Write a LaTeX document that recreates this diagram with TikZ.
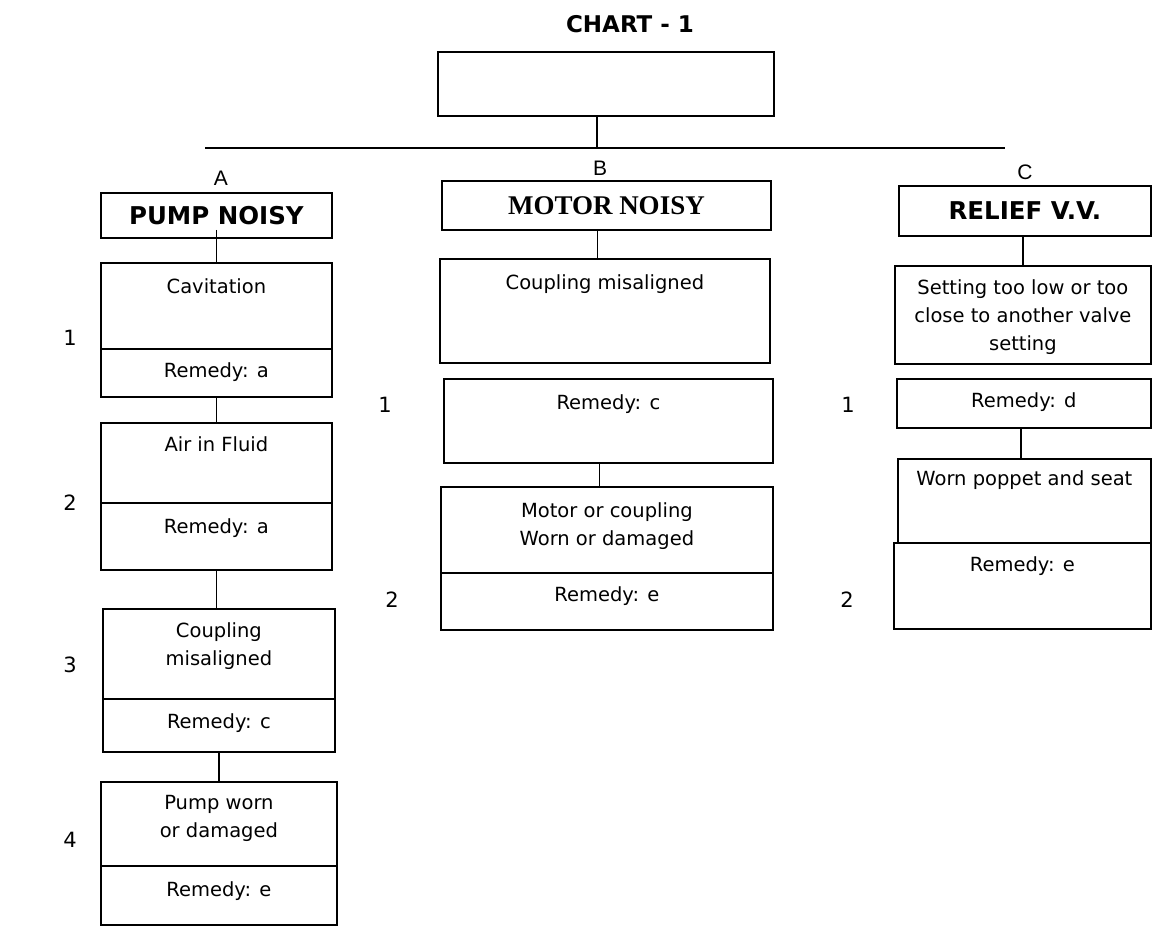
\documentclass[tikz,border=0pt]{standalone}
\usepackage{fontspec}
\setmainfont{DejaVu Sans}
\newfontfamily\timesfont{Liberation Serif}
\newfontfamily\arialfont{Liberation Sans}
\usetikzlibrary{positioning}

\tikzset{
  box/.style={draw, line width=1.8pt, anchor=north west, inner sep=0pt},
  link/.style={line width=1.8pt},
  cause/.style={inner sep=0pt, align=center, font=\fontsize{19.5}{28}\selectfont},
  num/.style={font=\fontsize{21}{24}\selectfont},
  colhead/.style={font=\arialfont\fontsize{21}{24}\selectfont},
  head/.style={font=\bfseries\fontsize{24.5}{28}\selectfont},
}

\begin{document}
\begin{tikzpicture}[x=1pt, y=-1pt]
  \useasboundingbox (0,0) rectangle (1152,926);

  % Title and empty top box
  \node[font=\bfseries\fontsize{23}{26}\selectfont] (title) at (630,24) {CHART - 1};
  \node[box, line width=2.4pt, minimum width=336pt, minimum height=64pt] (top) at (437,51) {};

  % Bus line
  \coordinate (busL) at (205,148);
  \coordinate (busR) at (1005,148);
  \coordinate (busM) at (597,148);
  \draw[link] (busL) -- (busR);
  \draw[link] (busM |- top.south) -- (busM);

  % Column letters
  \node[colhead] (colA) at (221,178) {A};
  \node[colhead] (colB) at (600,168) {B};
  \node[colhead] (colC) at (1025,172) {C};

  % Row numbers
  \foreach \n/\t/\x/\y in {A1/1/70/338, A2/2/70/503, A3/3/70/665, A4/4/70/840,
                           B1/1/385/405, B2/2/392/600, C1/1/848/405, C2/2/847/600} {
    \node[num] (num\n) at (\x,\y) {\t};
  }

  % Column A: pump noisy
  \node[box, head, minimum width=231pt, minimum height=45pt] (pump) at (100,192) {PUMP NOISY};
  \node[box, minimum width=231pt, minimum height=86pt] (a1) at (100,262) {};
  \node[box, minimum width=231pt, minimum height=48pt] (r1) at (100,348) {};
  \node[box, minimum width=231pt, minimum height=80pt] (a2) at (100,422) {};
  \node[box, minimum width=231pt, minimum height=67pt] (r2) at (100,502) {};
  \node[box, minimum width=232pt, minimum height=90pt] (a3) at (102,608) {};
  \node[box, minimum width=232pt, minimum height=53pt] (r3) at (102,698) {};
  \node[box, minimum width=236pt, minimum height=84pt] (a4) at (100,781) {};
  \node[box, minimum width=236pt, minimum height=59pt] (r4) at (100,865) {};

  \node[cause, below=16pt of a1.north] (a1t) {Cavitation};
  \node[cause, below=14pt of r1.north] (r1t) {Remedy: a};
  \node[cause, below=14pt of a2.north] (a2t) {Air in Fluid};
  \node[cause, below=16pt of r2.north] (r2t) {Remedy: a};
  \node[cause, below=14pt of a3.north] (a3t) {Coupling\\misaligned};
  \node[cause, below=15pt of r3.north] (r3t) {Remedy: c};
  \node[cause, below=14pt of a4.north] (a4t) {Pump worn\\or damaged};
  \node[cause, below=16pt of r4.north] (r4t) {Remedy: e};

  \draw[link] ([yshift=9pt]pump.south) -- (a1.north);
  \draw[link] (r1.south) -- (a2.north);
  \draw[link] (r2.south) -- (r2.south |- a3.north);
  \draw[link] (r3.south) -- (r3.south |- a4.north);

  % Column B: motor noisy
  \node[box, font=\timesfont\bfseries\fontsize{27}{30}\selectfont,
        minimum width=329pt, minimum height=49pt] (motor) at (441,180) {MOTOR NOISY};
  \node[box, minimum width=330pt, minimum height=104pt] (b1) at (439,258) {};
  \node[box, minimum width=329pt, minimum height=84pt] (rb1) at (443,378) {};
  \node[box, minimum width=332pt, minimum height=86pt] (b2) at (440,486) {};
  \node[box, minimum width=332pt, minimum height=57pt] (rb2) at (440,572) {};

  \node[cause, below=16pt of b1.north] (b1t) {Coupling misaligned};
  \node[cause, below=16pt of rb1.north] (rb1t) {Remedy: c};
  \node[cause, below=16pt of b2.north] (b2t) {Motor or coupling\\Worn or damaged};
  \node[cause, below=14pt of rb2.north] (rb2t) {Remedy: e};

  \draw[link] ([xshift=-9pt]motor.south) -- ([xshift=-9pt]motor.south |- b1.north);
  \draw[link] ([xshift=-9pt]rb1.south) -- ([xshift=-9pt]rb1.south |- b2.north);

  % Column C: relief valve
  \node[box, head, minimum width=252pt, minimum height=50pt] (relief) at (898,185) {RELIEF V.V.};
  \node[box, minimum width=256pt, minimum height=98pt] (c1) at (894,265) {};
  \node[box, minimum width=254pt, minimum height=49pt] (rc1) at (896,378) {};
  \node[box, minimum width=253pt, minimum height=84pt] (c2) at (897,458) {};
  \node[box, minimum width=257pt, minimum height=86pt] (rc2) at (893,542) {};

  \node[cause, below=14pt of c1.north] (c1t) {Setting too low or too\\close to another valve\\setting};
  \node[cause, below=14pt of rc1.north] (rc1t) {Remedy: d};
  \node[cause, below=12pt of c2.north] (c2t) {Worn poppet and seat};
  \node[cause, below=14pt of rc2.north] (rc2t) {Remedy: e};

  \draw[link] ([xshift=-2pt]relief.south) -- ([xshift=-2pt]relief.south |- c1.north);
  \draw[link] ([xshift=-3pt]rc1.south) -- ([xshift=-3pt]rc1.south |- c2.north);
\end{tikzpicture}
\end{document}
